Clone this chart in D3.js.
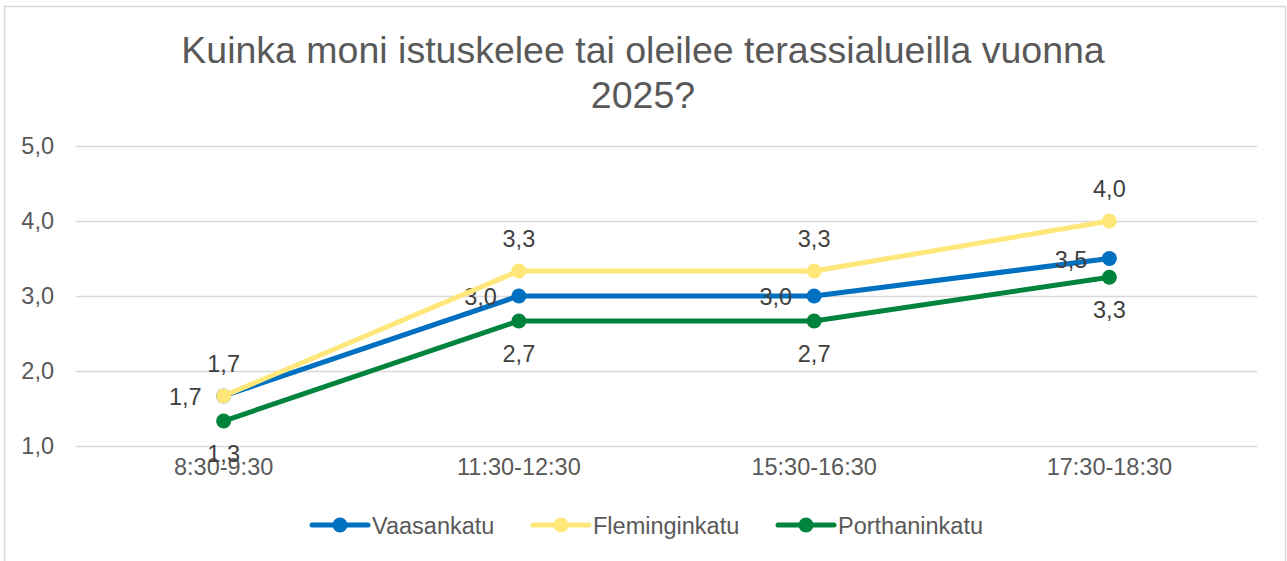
<!DOCTYPE html>
<html>
<head>
<meta charset="utf-8">
<script src="https://cdn.jsdelivr.net/npm/d3@7"></script>
<style>
  body { margin: 0; background: #fff; }
  text { font-family: 'Liberation Sans', Arial, sans-serif; }
</style>
</head>
<body>
<div class="chart-container"></div>
<script>
const categories = ['8:30-9:30', '11:30-12:30', '15:30-16:30', '17:30-18:30'];
const seriesNames = ['Vaasankatu', 'Fleminginkatu', 'Porthaninkatu'];
const vaasankatu = [1.667, 3.0, 3.0, 3.5];
const fleminginkatu = [1.667, 3.333, 3.333, 4.0];
const porthaninkatu = [1.333, 2.667, 2.667, 3.25];
const yTicks = [1, 2, 3, 4, 5];
const titleLines = ['Kuinka moni istuskelee tai oleilee terassialueilla vuonna', '2025?'];

const colors = ['#0070C0', '#FFE77A', '#00843D'];
const labelPos = ['left', 'above', 'below'];
const seriesValues = [vaasankatu, fleminginkatu, porthaninkatu];
const seriesData = seriesNames.map((name, i) => ({
    name: name,
    color: colors[i],
    pos: labelPos[i],
    values: seriesValues[i]
}));

const svg_width = 1287;
const svg_height = 561;
const plot = { left: 76, right: 1257, top: 146, bottom: 446 };
const fmt = d => d3.format('.1f')(d).replace('.', ',');

const svg = d3.select('.chart-container')
    .append('svg')
    .attr('width', svg_width)
    .attr('height', svg_height);

// border
svg.append('rect')
    .attr('x', 4.5)
    .attr('y', 6.5)
    .attr('width', 1281)
    .attr('height', 570)
    .attr('fill', 'none')
    .attr('stroke', '#d9d9d9')
    .attr('stroke-width', 1.5);

// title
svg.append('g')
    .selectAll('text')
    .data(titleLines)
    .join('text')
    .attr('x', 643)
    .attr('y', (d, i) => 63 + i * 45)
    .attr('text-anchor', 'middle')
    .style('font-size', '37.5px')
    .style('fill', '#595959')
    .text(d => d);

// scales
const xScale = d3.scaleBand()
    .domain(categories)
    .range([plot.left, plot.right]);
const xPos = d => xScale(d) + xScale.bandwidth() / 2;
const yScale = d3.scaleLinear([1, 5], [plot.bottom, plot.top]);

// gridlines + y labels
const yAxis = d3.axisLeft(yScale)
    .tickValues(yTicks)
    .tickFormat(fmt)
    .tickSizeInner(-(plot.right - plot.left))
    .tickSizeOuter(0)
    .tickPadding(22);
const yAxisDraw = svg.append('g')
    .attr('transform', `translate(${plot.left},0)`)
    .call(yAxis);
yAxisDraw.select('.domain').remove();
yAxisDraw.selectAll('line')
    .attr('stroke', '#d9d9d9')
    .attr('stroke-width', 1.5);
yAxisDraw.selectAll('text')
    .style('font-size', '23.5px')
    .style('font-family', "'Liberation Sans', Arial, sans-serif")
    .style('fill', '#595959');

// x labels
const xAxis = d3.axisBottom(xScale)
    .tickSize(0)
    .tickPadding(12);
const xAxisDraw = svg.append('g')
    .attr('transform', `translate(0,${plot.bottom})`)
    .call(xAxis);
xAxisDraw.select('.domain').remove();
xAxisDraw.selectAll('text')
    .style('font-size', '23.5px')
    .style('font-family', "'Liberation Sans', Arial, sans-serif")
    .style('fill', '#595959');

// lines
const line = d3.line()
    .x((d, i) => xPos(categories[i]))
    .y(d => yScale(d));

const series = svg.selectAll('.series')
    .data(seriesData)
    .join('g')
    .attr('class', 'series');

series.append('path')
    .attr('d', d => line(d.values))
    .attr('fill', 'none')
    .attr('stroke', d => d.color)
    .attr('stroke-width', 5)
    .attr('stroke-linejoin', 'round')
    .attr('stroke-linecap', 'round');

series.selectAll('circle')
    .data(d => d.values.map((v, i) => ({ v: v, c: categories[i], color: d.color })))
    .join('circle')
    .attr('cx', d => xPos(d.c))
    .attr('cy', d => yScale(d.v))
    .attr('r', 7.5)
    .attr('fill', d => d.color);

// data labels
series.selectAll('.label')
    .data(d => d.values.map((v, i) => ({ v: v, c: categories[i], pos: d.pos })))
    .join('text')
    .attr('class', 'label')
    .attr('x', d => d.pos === 'left' ? xPos(d.c) - 22 : xPos(d.c))
    .attr('y', d => {
        const y = yScale(d.v);
        if (d.pos === 'left') return y + 9;
        if (d.pos === 'above') return y - 24;
        return y + 41;
    })
    .attr('text-anchor', d => d.pos === 'left' ? 'end' : 'middle')
    .style('font-size', '23.5px')
    .style('fill', '#404040')
    .text(d => fmt(d.v));

// legend
const legendX = [312, 533, 778];
const legend = svg.selectAll('.legend')
    .data(seriesData)
    .join('g')
    .attr('class', 'legend')
    .attr('transform', (d, i) => `translate(${legendX[i]},525)`);
legend.append('line')
    .attr('x1', 0)
    .attr('x2', 56)
    .attr('stroke', d => d.color)
    .attr('stroke-width', 5)
    .attr('stroke-linecap', 'round');
legend.append('circle')
    .attr('cx', 28)
    .attr('r', 7.5)
    .attr('fill', d => d.color);
legend.append('text')
    .attr('x', 60)
    .attr('y', 8.5)
    .style('font-size', '23.5px')
    .style('fill', '#595959')
    .text(d => d.name);
</script>
</body>
</html>
